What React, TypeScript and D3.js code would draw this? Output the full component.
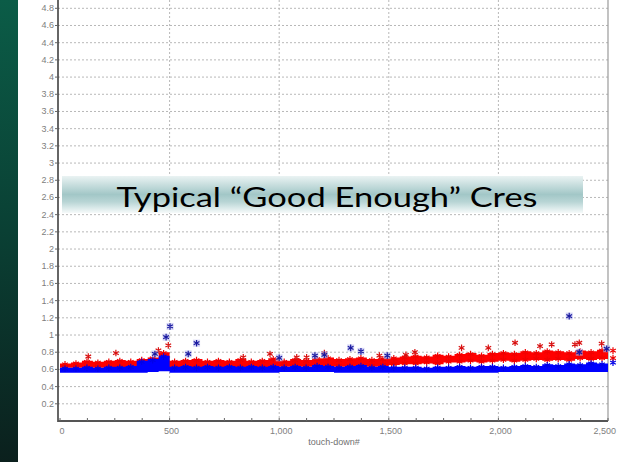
import React from 'react';
import * as d3 from 'd3';

// touch-down# block starts (each block spans 50 touch-downs)
const blockStart = [
  0, 50, 100, 150, 200, 250, 300, 350, 400, 450,
  500, 550, 600, 650, 700, 750, 800, 850, 900, 950,
  1000, 1050, 1100, 1150, 1200, 1250, 1300, 1350, 1400, 1450,
  1500, 1550, 1600, 1650, 1700, 1750, 1800, 1850, 1900, 1950,
  2000, 2050, 2100, 2150, 2200, 2250, 2300, 2350, 2400, 2450, 2500
];

// red series: upper / lower edge of the point cloud per block
const redHigh = [
  0.67, 0.68, 0.70, 0.69, 0.70, 0.71, 0.70, 0.72, 0.74, 0.80,
  0.70, 0.71, 0.72, 0.70, 0.71, 0.70, 0.72, 0.70, 0.71, 0.73,
  0.70, 0.72, 0.71, 0.73, 0.74, 0.72, 0.73, 0.74, 0.72, 0.73,
  0.74, 0.75, 0.76, 0.75, 0.77, 0.76, 0.78, 0.79, 0.77, 0.79,
  0.80, 0.79, 0.81, 0.80, 0.82, 0.81, 0.80, 0.82, 0.81, 0.83, 0.83
];
const redLow = [
  0.62, 0.62, 0.62, 0.62, 0.62, 0.62, 0.62, 0.62, 0.62, 0.62,
  0.62, 0.62, 0.62, 0.62, 0.62, 0.62, 0.62, 0.62, 0.62, 0.62,
  0.63, 0.63, 0.63, 0.63, 0.63, 0.63, 0.63, 0.63, 0.63, 0.64,
  0.65, 0.66, 0.66, 0.67, 0.66, 0.68, 0.68, 0.69, 0.68, 0.69,
  0.70, 0.69, 0.70, 0.71, 0.70, 0.71, 0.70, 0.72, 0.71, 0.72, 0.72
];

// blue series: upper / lower edge per block
const blueHigh = [
  0.62, 0.62, 0.63, 0.62, 0.63, 0.63, 0.64, 0.70, 0.72, 0.76,
  0.63, 0.64, 0.63, 0.64, 0.63, 0.64, 0.63, 0.64, 0.63, 0.64,
  0.63, 0.64, 0.63, 0.65, 0.64, 0.63, 0.64, 0.65, 0.63, 0.64,
  0.63, 0.63, 0.63, 0.62, 0.63, 0.63, 0.64, 0.63, 0.64, 0.64,
  0.63, 0.64, 0.65, 0.64, 0.66, 0.65, 0.67, 0.66, 0.68, 0.67, 0.69
];
const blueLow = [
  0.56, 0.56, 0.56, 0.56, 0.56, 0.56, 0.56, 0.56, 0.57, 0.58,
  0.56, 0.56, 0.56, 0.56, 0.56, 0.56, 0.56, 0.56, 0.56, 0.56,
  0.57, 0.57, 0.57, 0.57, 0.57, 0.56, 0.56, 0.56, 0.56, 0.56,
  0.56, 0.56, 0.56, 0.56, 0.56, 0.56, 0.56, 0.56, 0.56, 0.56,
  0.57, 0.57, 0.57, 0.57, 0.57, 0.57, 0.57, 0.57, 0.57, 0.57, 0.57
];

// isolated points above the clouds [touch-down#, value]
const redOutliers: [number, number][] = [
  [129, 0.75], [255, 0.79], [449, 0.82], [494, 0.88], [836, 0.74],
  [958, 0.78], [1080, 0.74], [1125, 0.74], [1206, 0.79], [1457, 0.76],
  [1578, 0.77], [1619, 0.80], [1832, 0.85], [1954, 0.85], [2076, 0.91],
  [2190, 0.87], [2243, 0.89], [2349, 0.89], [2369, 0.91], [2471, 0.90]
];
const blueOutliers: [number, number][] = [
  [433, 0.78], [484, 0.975], [502, 1.10], [585, 0.78], [623, 0.905],
  [1000, 0.735], [1163, 0.76], [1206, 0.77], [1326, 0.85], [1373, 0.81],
  [1493, 0.76], [2323, 1.22], [2369, 0.80], [2494, 0.84]
];

const yTicks = [0.2, 0.4, 0.6, 0.8, 1, 1.2, 1.4, 1.6, 1.8, 2, 2.2, 2.4, 2.6, 2.8, 3, 3.2, 3.4, 3.6, 3.8, 4, 4.2, 4.4, 4.6, 4.8];
const xTicks = [0, 500, 1000, 1500, 2000, 2500];
const xMinorTicks = [125, 250, 375, 625, 750, 875, 1125, 1250, 1375, 1625, 1750, 1875, 2125, 2250, 2375];

const W = 617;
const H = 462;

export default function App() {
  const x = d3.scaleLinear().domain([0, 2500]).range([60, 608]);
  const y = d3.scaleLinear().domain([0, 4.8]).range([421, 8.3]);
  const axisX = 58;
  const axisY = 421;
  const right = 608;

  const band = (hi: number[], lo: number[]) =>
    d3.area<number>()
      .x((u) => x(u))
      .y0((_, i) => y(lo[i]))
      .y1((_, i) => y(hi[i]))
      .curve(d3.curveStepAfter)(blockStart) || '';

  const star = d3.symbol(d3.symbolAsterisk, 30)() || '';
  const fmt = d3.format(',');

  // asterisks sitting on a cloud edge, nudged 1px into the cloud
  const markers = (vals: number[], color: string, key: string, nudge: number) =>
    blockStart.map((u, i) => (
      <path key={key + i} d={star} transform={`translate(${x(u) + 5},${y(vals[i]) + nudge})`}
        fill="none" stroke={color} strokeWidth={1.2} />
    ));

  return (
    <svg width={W} height={H} style={{ position: 'absolute', left: 0, top: 0 }}
      fontFamily="'Liberation Sans', Arial, sans-serif">
      <defs>
        <linearGradient id="side" x1="0" y1="0" x2="0" y2="1">
          <stop offset="0%" stopColor="#0b5c47" />
          <stop offset="50%" stopColor="#0a4034" />
          <stop offset="100%" stopColor="#0b201d" />
        </linearGradient>
        <linearGradient id="banner" x1="0" y1="0" x2="0" y2="1">
          <stop offset="0%" stopColor="#eaf3f3" />
          <stop offset="50%" stopColor="#a2c7c7" />
          <stop offset="70%" stopColor="#b8d5d5" />
          <stop offset="100%" stopColor="#f6fafa" />
        </linearGradient>
      </defs>
      <rect x={0} y={0} width={18} height={H} fill="url(#side)" />
      <rect x={18} y={0} width={W - 18} height={H} fill="#ffffff" />

      {/* grid */}
      {yTicks.map((t) => (
        <line key={'gy' + t} x1={axisX} x2={right} y1={y(t)} y2={y(t)}
          stroke="#b8b8b8" strokeWidth={1} strokeDasharray="2,2" />
      ))}
      {xTicks.slice(1, -1).map((t) => (
        <line key={'gx' + t} x1={x(t)} x2={x(t)} y1={0} y2={axisY}
          stroke="#b8b8b8" strokeWidth={1} strokeDasharray="2,2" />
      ))}
      <line x1={right} x2={right} y1={0} y2={axisY} stroke="#9a9a9a" strokeWidth={1.2} />

      {/* red cloud */}
      <path d={band(redHigh, redLow)} fill="#ff0000" />
      {markers(redHigh, '#f00000', 'rh', 1)}
      {markers(redLow, '#f00000', 'rl', -1)}
      {/* blue cloud */}
      <path d={band(blueHigh, blueLow)} fill="#0000ff" />
      {markers(blueHigh, '#0000e8', 'bh', 1)}

      {redOutliers.map(([u, v], i) => (
        <path key={'ro' + i} d={star} transform={`translate(${x(u)},${y(v)})`}
          fill="none" stroke="#d81010" strokeWidth={1.2} />
      ))}
      {blueOutliers.map(([u, v], i) => (
        <g key={'bo' + i} transform={`translate(${x(u)},${y(v)})`}>
          <rect x={-3.5} y={-3.5} width={7} height={7} fill="#b8b8ee" opacity={0.6} />
          <path d={star} fill="none" stroke="#1a1aa0" strokeWidth={1.2} />
        </g>
      ))}

      {/* axes */}
      <line x1={axisX} x2={axisX} y1={0} y2={axisY + 1} stroke="#333" strokeWidth={1.5} />
      <line x1={axisX} x2={right} y1={axisY} y2={axisY} stroke="#555" strokeWidth={2} />
      {yTicks.map((t) => (
        <g key={'ty' + t}>
          <line x1={axisX - 3} x2={axisX} y1={y(t)} y2={y(t)} stroke="#666" />
          <text x={axisX - 4} y={y(t) + 3} textAnchor="end" fontSize={9} fill="#808080">{t}</text>
        </g>
      ))}
      {xMinorTicks.map((t) => (
        <line key={'mx' + t} x1={x(t)} x2={x(t)} y1={axisY - 3} y2={axisY} stroke="#666" />
      ))}
      {xTicks.map((t, i) => (
        <g key={'tx' + t}>
          <line x1={x(t)} x2={x(t)} y1={axisY - 3} y2={axisY} stroke="#666" />
          <text x={i === xTicks.length - 1 ? 616 : x(t) + 2} y={axisY + 13}
            textAnchor={i === xTicks.length - 1 ? 'end' : 'middle'} fontSize={9} fill="#808080">{fmt(t)}</text>
        </g>
      ))}
      <text x={334} y={445} textAnchor="middle" fontSize={9} fill="#707070">touch-down#</text>

      {/* overlaid title banner */}
      <rect x={62} y={176} width={521} height={37} fill="url(#banner)" />
      <text x={327} y={207} textAnchor="middle" fontSize={27} fill="#000"
        fontFamily="Lato, 'Open Sans', sans-serif" textLength={421} lengthAdjust="spacingAndGlyphs">
        Typical “Good Enough” Cres
      </text>
    </svg>
  );
}
